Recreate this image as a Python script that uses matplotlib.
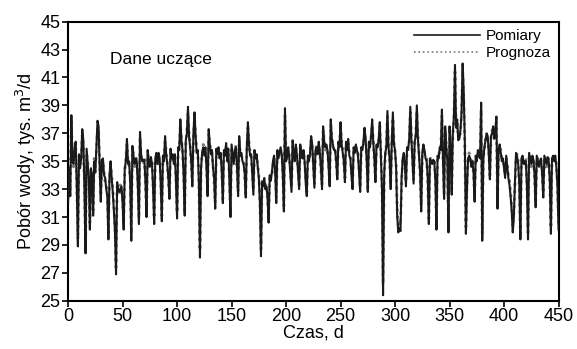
import matplotlib
matplotlib.use("Agg")
import matplotlib.pyplot as plt
import numpy as np

plt.rcParams["font.family"] = ["Liberation Sans", "DejaVu Sans"]

# measured daily water intake, thousand m3/d (one row = one week)
pomiary_weeks = [
    [32.0, 34.5, 32.5, 38.3, 35.0, 34.8, 36.0],
    [36.4, 33.0, 28.9, 35.5, 34.5, 35.2, 37.3],
    [36.5, 33.0, 28.4, 35.9, 34.8, 33.8, 30.1],
    [34.5, 34.0, 31.1, 35.0, 34.2, 36.0, 37.9],
    [37.5, 34.5, 32.1, 35.1, 35.2, 34.0, 33.8],
    [33.0, 32.5, 29.4, 34.0, 35.0, 33.8, 32.8],
    [31.5, 30.0, 26.9, 33.5, 33.0, 32.8, 33.0],
    [33.2, 32.0, 30.1, 34.5, 35.0, 36.6, 34.8],
    [35.0, 33.5, 29.3, 36.1, 35.4, 34.8, 35.2],
    [35.0, 33.2, 30.5, 37.1, 35.5, 35.0, 35.1],
    [35.1, 33.5, 31.0, 35.8, 35.0, 34.6, 35.3],
    [34.8, 33.0, 30.5, 35.2, 35.6, 34.8, 35.6],
    [35.2, 33.4, 30.7, 35.4, 35.0, 36.8, 35.5],
    [34.8, 33.8, 32.3, 35.9, 35.2, 35.5, 34.8],
    [35.5, 33.5, 30.9, 36.0, 35.8, 38.0, 36.5],
    [35.8, 34.0, 31.1, 36.5, 37.0, 38.9, 36.8],
    [36.0, 35.0, 33.2, 37.0, 38.5, 36.8, 35.6],
    [35.8, 33.5, 28.1, 34.5, 35.6, 36.0, 35.4],
    [36.0, 34.5, 32.5, 37.3, 36.2, 35.5, 35.8],
    [34.5, 33.8, 31.6, 35.9, 35.5, 36.0, 35.2],
    [35.6, 34.2, 32.0, 35.8, 35.4, 36.3, 35.0],
    [35.9, 33.6, 31.0, 36.2, 35.5, 34.8, 35.8],
    [36.0, 34.6, 32.5, 36.8, 35.4, 35.6, 35.0],
    [34.8, 34.2, 32.4, 36.0, 37.8, 36.2, 35.4],
    [35.5, 34.0, 32.6, 35.8, 35.2, 35.5, 34.6],
    [33.8, 32.0, 28.2, 33.5, 33.2, 33.8, 33.0],
    [33.2, 32.4, 30.6, 34.0, 33.6, 34.2, 35.0],
    [35.4, 34.2, 32.0, 35.8, 35.2, 35.6, 36.0],
    [35.5, 34.0, 31.4, 38.8, 35.0, 35.4, 36.0],
    [35.2, 34.0, 32.8, 36.5, 35.6, 35.0, 36.2],
    [35.4, 34.2, 33.0, 36.2, 35.6, 35.2, 35.8],
    [35.0, 33.5, 32.5, 35.4, 35.0, 35.6, 36.8],
    [36.2, 34.6, 33.1, 35.8, 36.0, 35.5, 36.4],
    [35.6, 34.5, 33.0, 37.5, 36.4, 36.0, 36.2],
    [35.8, 34.6, 33.2, 38.0, 36.6, 36.2, 35.8],
    [35.8, 35.0, 33.7, 36.4, 36.0, 37.8, 36.2],
    [35.6, 35.0, 33.5, 36.4, 35.8, 36.6, 35.4],
    [35.2, 34.0, 33.0, 36.0, 35.6, 36.2, 35.8],
    [35.4, 34.2, 32.8, 36.0, 35.8, 36.4, 37.4],
    [36.6, 35.0, 32.8, 36.4, 36.0, 36.8, 38.0],
    [36.4, 35.2, 33.5, 36.2, 36.0, 36.6, 37.8],
    [35.5, 33.0, 25.4, 34.0, 35.6, 36.0, 38.6],
    [36.0, 35.2, 33.0, 36.4, 38.5, 36.2, 35.8],
    [34.5, 31.0, 29.9, 30.2, 30.0, 33.8, 35.2],
    [35.6, 34.8, 33.2, 36.0, 35.8, 36.6, 38.9],
    [36.6, 35.0, 33.4, 36.4, 36.8, 39.0, 36.6],
    [35.4, 34.2, 31.4, 35.6, 36.2, 35.8, 35.2],
    [35.0, 33.8, 30.5, 35.2, 35.0, 34.8, 35.1],
    [35.0, 33.6, 30.1, 35.4, 35.2, 36.0, 35.8],
    [38.7, 35.0, 32.3, 37.5, 36.0, 35.0, 29.9],
    [37.5, 36.0, 32.6, 37.0, 38.2, 41.9, 37.4],
    [38.0, 36.5, 36.6, 37.2, 38.5, 42.0, 40.0],
    [36.5, 29.8, 33.0, 35.2, 35.4, 35.2, 34.6],
    [35.0, 34.2, 32.1, 35.4, 35.0, 35.8, 35.4],
    [35.2, 39.2, 29.3, 35.1, 36.0, 36.5, 37.0],
    [36.8, 35.5, 33.7, 36.8, 37.0, 37.5, 36.6],
    [37.2, 38.2, 31.6, 35.8, 36.2, 35.6, 35.0],
    [35.2, 34.5, 33.8, 35.4, 34.6, 33.8, 33.3],
    [32.5, 31.5, 29.9, 31.0, 33.5, 35.6, 35.3],
    [34.8, 33.4, 29.4, 35.2, 35.4, 34.8, 35.0],
    [35.0, 33.2, 29.4, 35.6, 35.2, 34.8, 35.4],
    [35.1, 34.0, 31.7, 35.4, 35.0, 34.6, 35.0],
    [35.2, 34.0, 32.4, 35.4, 35.1, 34.8, 35.3],
    [35.0, 33.6, 29.8, 35.2, 35.4, 35.0, 35.4],
    [34.6, 33.2, 30.1],
]

# model forecast for the same days
prognoza_weeks = [
    [32.4, 34.2, 32.9, 37.8, 35.3, 34.6, 35.7],
    [36.0, 33.4, 29.4, 35.2, 34.8, 35.0, 36.9],
    [36.1, 33.4, 28.9, 35.5, 35.0, 33.5, 30.6],
    [34.2, 33.7, 31.5, 35.3, 34.5, 35.7, 37.4],
    [37.1, 34.8, 32.5, 34.8, 35.0, 34.3, 33.5],
    [33.3, 32.8, 29.9, 33.7, 34.7, 34.0, 33.1],
    [31.8, 30.4, 27.4, 33.2, 33.3, 32.6, 33.3],
    [33.0, 32.3, 30.5, 34.2, 35.2, 36.2, 35.0],
    [34.7, 33.8, 29.8, 35.8, 35.6, 34.6, 35.0],
    [35.2, 33.5, 30.9, 36.7, 35.3, 35.2, 34.9],
    [35.3, 33.2, 31.4, 35.5, 35.2, 34.8, 35.0],
    [35.0, 33.3, 30.9, 35.0, 35.3, 35.0, 35.3],
    [35.0, 33.7, 31.1, 35.1, 35.3, 36.4, 35.7],
    [35.0, 33.5, 32.6, 35.6, 35.4, 35.3, 35.0],
    [35.3, 33.8, 31.3, 35.7, 36.0, 37.6, 36.7],
    [35.6, 34.3, 31.5, 36.2, 37.2, 38.5, 37.0],
    [36.2, 34.7, 33.5, 36.7, 38.1, 37.0, 35.8],
    [35.5, 33.8, 28.6, 34.8, 35.4, 36.2, 35.6],
    [35.8, 34.8, 32.8, 37.0, 36.4, 35.7, 35.6],
    [34.8, 33.5, 32.0, 35.6, 35.7, 35.8, 35.4],
    [35.4, 34.5, 32.3, 35.6, 35.6, 36.0, 35.2],
    [35.7, 33.9, 31.4, 35.9, 35.7, 35.0, 35.6],
    [36.2, 34.3, 32.8, 36.5, 35.6, 35.4, 35.2],
    [35.0, 34.0, 32.7, 35.8, 37.4, 36.4, 35.6],
    [35.3, 34.3, 32.9, 35.6, 35.4, 35.3, 34.8],
    [34.0, 32.3, 28.7, 33.8, 33.5, 33.6, 33.3],
    [33.4, 32.2, 31.0, 33.8, 33.9, 34.0, 34.7],
    [35.2, 34.4, 32.4, 35.5, 35.4, 35.4, 35.8],
    [35.7, 34.3, 31.8, 38.3, 35.3, 35.2, 35.8],
    [35.4, 34.3, 33.1, 36.2, 35.8, 35.2, 36.0],
    [35.2, 34.4, 33.3, 36.0, 35.8, 35.4, 35.6],
    [35.2, 33.8, 32.8, 35.2, 35.2, 35.4, 36.5],
    [36.0, 34.8, 33.4, 35.6, 36.2, 35.7, 36.2],
    [35.8, 34.3, 33.3, 37.2, 36.6, 35.8, 36.0],
    [35.6, 34.8, 33.5, 37.6, 36.8, 36.0, 35.9],
    [36.0, 34.8, 33.9, 36.2, 36.2, 37.4, 36.4],
    [35.8, 34.8, 33.8, 36.2, 36.0, 36.4, 35.6],
    [35.4, 34.3, 33.3, 35.8, 35.8, 36.0, 35.6],
    [35.6, 34.5, 33.1, 35.8, 36.0, 36.2, 37.1],
    [36.4, 35.2, 33.1, 36.2, 36.2, 36.6, 37.6],
    [36.6, 35.0, 33.8, 36.0, 36.2, 36.4, 37.5],
    [35.7, 33.4, 26.2, 33.8, 35.3, 36.2, 38.2],
    [36.2, 35.0, 33.3, 36.2, 38.1, 36.4, 35.6],
    [34.8, 31.5, 30.3, 30.6, 30.4, 33.5, 35.0],
    [35.4, 34.6, 33.5, 35.8, 36.0, 36.4, 38.5],
    [36.8, 35.2, 33.7, 36.2, 37.0, 38.6, 36.8],
    [35.6, 34.0, 31.8, 35.4, 36.0, 35.6, 35.4],
    [35.2, 33.5, 30.9, 35.0, 35.2, 35.0, 34.9],
    [35.2, 33.8, 30.5, 35.2, 35.4, 35.8, 36.0],
    [38.3, 35.3, 32.7, 37.2, 36.2, 35.2, 30.4],
    [37.2, 36.2, 33.0, 36.8, 38.0, 41.4, 37.6],
    [37.8, 36.8, 36.8, 37.0, 38.3, 41.5, 39.6],
    [36.2, 30.3, 33.3, 35.0, 35.6, 35.0, 34.8],
    [35.2, 34.0, 32.5, 35.2, 35.2, 35.6, 35.6],
    [35.4, 38.7, 29.8, 35.3, 35.8, 36.7, 36.8],
    [36.6, 35.7, 34.0, 36.6, 37.2, 37.3, 36.8],
    [37.0, 37.8, 32.0, 35.6, 36.0, 35.8, 35.2],
    [35.0, 34.7, 34.0, 35.2, 34.8, 34.0, 33.6],
    [32.8, 31.8, 30.3, 31.4, 33.2, 35.3, 35.5],
    [35.0, 33.2, 29.8, 35.0, 35.2, 35.0, 34.8],
    [35.2, 33.5, 29.9, 35.4, 35.4, 34.6, 35.2],
    [35.3, 33.8, 32.0, 35.2, 35.2, 34.8, 34.8],
    [35.0, 34.2, 32.7, 35.2, 35.3, 34.6, 35.1],
    [35.2, 33.4, 30.2, 35.0, 35.2, 35.2, 35.2],
    [34.8, 33.5, 30.5],
]

pomiary = np.concatenate([np.array(w) for w in pomiary_weeks])
prognoza = np.concatenate([np.array(w) for w in prognoza_weeks])
dni = np.arange(len(pomiary))

fig = plt.figure(figsize=(5.77, 3.49), dpi=100)
ax = fig.add_axes([0.118, 0.138, 0.850, 0.800])

ax.plot(dni, prognoza, color="#777777", ls=":", lw=2.0, label="Prognoza", zorder=2)
ax.plot(dni, pomiary, color="#1a1a1a", ls="-", lw=1.5, label="Pomiary", zorder=3)

ax.set_xlim(0, 450)
ax.set_ylim(25, 45)
ax.set_xticks(np.arange(0, 451, 50))
ax.set_yticks(np.arange(25, 46, 2))
ax.tick_params(direction="out", length=4, width=1.2, labelsize=13, pad=1.5)
for s in ax.spines.values():
    s.set_linewidth(1.5)

ax.set_xlabel("Czas, d", fontsize=13, labelpad=-1)
ax.set_ylabel("Pobór wody, tys. m$^3$/d", fontsize=13, labelpad=2)

ax.text(0.085, 0.848, "Dane uczące", transform=ax.transAxes, fontsize=12.5)

h, l = ax.get_legend_handles_labels()
leg = ax.legend(h[::-1], l[::-1], loc="upper right", frameon=False, fontsize=11,
                handlelength=4.3, handletextpad=0.4, labelspacing=0.2,
                borderaxespad=0.1)
leg.get_lines()[0].set_linewidth(1.2)
leg.get_lines()[1].set_linewidth(1.2)

fig.savefig("out.png", dpi=100)
